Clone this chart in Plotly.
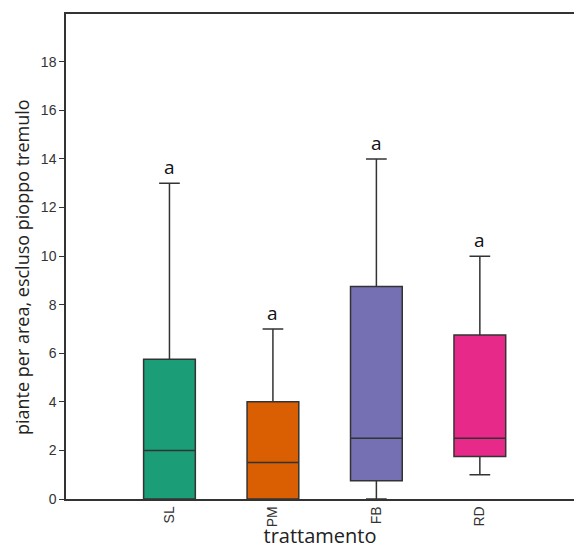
import plotly.graph_objects as go

categories = ["SL", "PM", "FB", "RD"]
lower = [0, 0, 0, 1]
q1 = [0, 0, 0.75, 1.75]
median = [2, 1.5, 2.5, 2.5]
q3 = [5.75, 4, 8.75, 6.75]
upper = [13, 7, 14, 10]
letters = ["a", "a", "a", "a"]
colors = ["#1b9e77", "#d95f02", "#7570b3", "#e7298a"]

fig = go.Figure()
for i, c in enumerate(categories):
    fig.add_trace(go.Box(
        x=[c], q1=[q1[i]], median=[median[i]], q3=[q3[i]],
        lowerfence=[lower[i]], upperfence=[upper[i]],
        fillcolor=colors[i], line=dict(color="#333333", width=1.5),
        width=0.5, whiskerwidth=0.4, boxpoints=False, hoverinfo="skip",
        showlegend=False,
    ))
    fig.add_annotation(x=c, y=upper[i], text=letters[i], showarrow=False,
                       yanchor="bottom", yshift=1,
                       font=dict(family="Open Sans, DejaVu Sans", size=19, color="#111111"))

fig.add_annotation(xref="paper", yref="paper", x=-0.087, y=0.478,
                   text="piante per area, escluso pioppo tremulo", textangle=-90,
                   showarrow=False, xanchor="center", yanchor="middle",
                   font=dict(family="Open Sans, DejaVu Sans", size=18, color="#222222"))

fig.update_layout(
    width=574, height=549,
    margin=dict(l=66, r=0, t=14, b=50),
    plot_bgcolor="white", paper_bgcolor="white",
)
fig.update_xaxes(
    categoryorder="array", categoryarray=categories,
    range=[-1, 3.91], showline=True, linecolor="#333333", linewidth=1.5,
    mirror=True, ticks="", tickangle=-90,
    tickfont=dict(family="Liberation Sans, Arial", size=14, color="#333333"),
    title=dict(text="trattamento", standoff=2,
               font=dict(family="Open Sans, DejaVu Sans", size=20, color="#222222")),
    showgrid=False, zeroline=False,
)
fig.update_yaxes(
    range=[0, 19.97], tickvals=list(range(0, 19, 2)),
    showline=True, linecolor="#333333", linewidth=1.5,
    ticks="outside", ticklen=5, tickcolor="#333333",
    tickfont=dict(family="Liberation Sans, Arial", size=14, color="#333333"),
    showgrid=False, zeroline=False,
)

fig.write_html("out.html")
